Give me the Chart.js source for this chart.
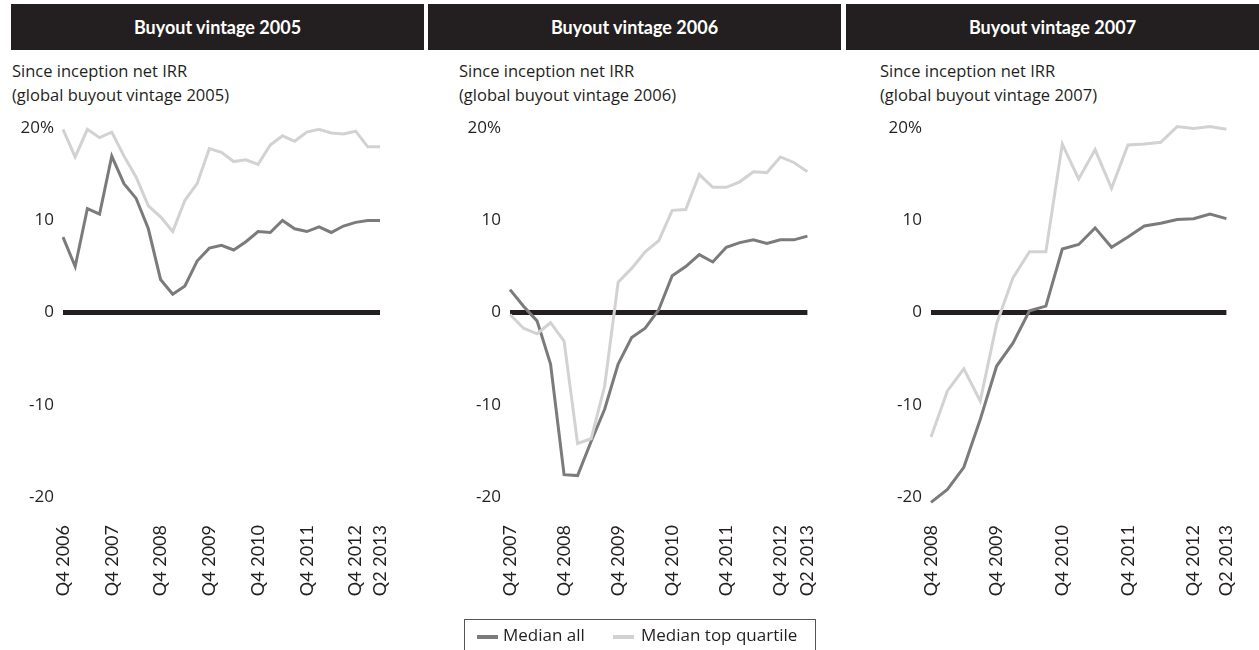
<!DOCTYPE html>
<html>
<head>
<meta charset="utf-8">
<script src="https://cdn.jsdelivr.net/npm/chart.js@4/dist/chart.umd.min.js"></script>
<style>
  body { margin: 0; background: #fff; font-family: "Open Sans", sans-serif; color: #231f20; }
  .bar { position: absolute; top: 4px; height: 46px; background: #231f20; color: #fff;
         font-family: Lato, sans-serif; font-weight: bold; font-size: 18px; line-height: 46px; text-align: center; }
  .sub { position: absolute; top: 59px; font-size: 16.5px; line-height: 24px; }
  canvas { position: absolute; top: 100px; }
  .legend { position: absolute; left: 464px; top: 619px; width: 350px; height: 60px;
            border: 1px solid #555; font-size: 17px; }
  .legend span.sw { position: absolute; top: 15px; width: 21px; height: 4px; }
  .legend span.tx { position: absolute; top: 3px; }
</style>
</head>
<body>
<div class="bar" style="left:11px;width:413px">Buyout vintage 2005</div>
<div class="bar" style="left:428px;width:413px">Buyout vintage 2006</div>
<div class="bar" style="left:846px;width:413px">Buyout vintage 2007</div>

<div class="sub" style="left:12px">Since inception net IRR<br>(global buyout vintage 2005)</div>
<div class="sub" style="left:459px">Since inception net IRR<br>(global buyout vintage 2006)</div>
<div class="sub" style="left:880px">Since inception net IRR<br>(global buyout vintage 2007)</div>

<canvas id="chart2005" width="420" height="530" style="left:0px"></canvas>
<canvas id="chart2006" width="420" height="530" style="left:420px"></canvas>
<canvas id="chart2007" width="419" height="530" style="left:840px"></canvas>

<div class="legend">
  <span class="sw" style="left:12px;background:#7b7b7d"></span>
  <span class="tx" style="left:38px">Median all</span>
  <span class="sw" style="left:148px;background:#d2d2d3"></span>
  <span class="tx" style="left:176px">Median top quartile</span>
</div>

<script>
// quarterly categories, Q4 of the vintage+1 year through Q2 2013
function quarterLabels(startYear) {
  const out = ["Q4 " + startYear];
  for (let y = startYear + 1; y <= 2012; y++) {
    for (let q = 1; q <= 4; q++) out.push("Q" + q + " " + y);
  }
  out.push("Q1 2013", "Q2 2013");
  return out;
}

const labels2005 = quarterLabels(2006);
const labels2006 = quarterLabels(2007);
const labels2007 = quarterLabels(2008);

// tick labels that are printed on the x axis
const shown2005 = ["Q4 2006", "Q4 2007", "Q4 2008", "Q4 2009", "Q4 2010", "Q4 2011", "Q4 2012", "Q2 2013"];
const shown2006 = ["Q4 2007", "Q4 2008", "Q4 2009", "Q4 2010", "Q4 2011", "Q4 2012", "Q2 2013"];
const shown2007 = ["Q4 2008", "Q4 2009", "Q4 2010", "Q4 2011", "Q4 2012", "Q2 2013"];

const yTicks = [-20, -10, 0, 10, 20];

// series values (%)
const medianAll2005 = [8.2, 5.0, 11.3, 10.7, 17.0, 14.0, 12.4, 9.1, 3.6, 2.0, 2.9, 5.6, 7.0, 7.3,
  6.8, 7.7, 8.8, 8.7, 10.0, 9.1, 8.8, 9.3, 8.7, 9.4, 9.8, 10.0, 10.0];
const topQuartile2005 = [19.9, 16.9, 19.9, 19.0, 19.6, 17.0, 14.7, 11.6, 10.4, 8.8, 12.2, 14.0, 17.8, 17.4,
  16.4, 16.6, 16.1, 18.2, 19.2, 18.6, 19.6, 19.9, 19.5, 19.4, 19.7, 18.0, 18.0];

const medianAll2006 = [2.5, 0.7, -0.9, -5.6, -17.6, -17.7, -14.0, -10.5, -5.6, -2.7, -1.7, 0.3,
  4.0, 5.0, 6.3, 5.5, 7.1, 7.6, 7.9, 7.5, 7.9, 7.9, 8.3];
const topQuartile2006 = [-0.2, -1.7, -2.3, -1.1, -3.1, -14.2, -13.7, -8.0, 3.3, 4.8, 6.6, 7.8,
  11.1, 11.2, 15.0, 13.6, 13.6, 14.2, 15.3, 15.2, 16.9, 16.3, 15.3];

const medianAll2007 = [-20.6, -19.2, -16.8, -11.6, -5.8, -3.3, 0.2, 0.7, 6.9, 7.4, 9.2, 7.1,
  8.2, 9.4, 9.7, 10.1, 10.2, 10.7, 10.2];
const topQuartile2007 = [-13.5, -8.5, -6.1, -9.6, -1.2, 3.8, 6.6, 6.6, 18.3, 14.5, 17.7, 13.5,
  18.2, 18.3, 18.5, 20.2, 20.0, 20.2, 19.9];

function makePanel(canvasId, labels, allValues, topValues, shown, axisWidth, padRight) {
  const ctx = document.getElementById(canvasId).getContext("2d");
  new Chart(ctx, {
    type: "line",
    data: {
      labels: labels,
      datasets: [
        {
          label: "Median top quartile",
          data: topValues,
          borderColor: "#d2d2d3",
          borderWidth: 3,
          pointRadius: 0,
          tension: 0,
        },
        {
          label: "Median all",
          data: allValues,
          borderColor: "#7b7b7d",
          borderWidth: 3,
          pointRadius: 0,
          tension: 0,
        },
      ],
    },
    options: {
      responsive: false,
      animation: false,
      devicePixelRatio: 1,
      layout: { padding: { top: 18, right: padRight, bottom: 0, left: 0 } },
      plugins: {
        legend: { display: false },
        tooltip: { enabled: false },
      },
      scales: {
        x: {
          grid: { display: false },
          border: { display: false },
          ticks: {
            autoSkip: false,
            maxRotation: 90,
            minRotation: 90,
            padding: 11,
            color: "#231f20",
            font: { family: "Lato", size: 18 },
            callback: function (value) {
              const lab = this.getLabelForValue(value);
              return shown.includes(lab) ? lab : "";
            },
          },
          afterFit: function (scale) {
            scale.height = 124;
          },
        },
        y: {
          min: -21,
          max: 21,
          border: { display: false },
          grid: {
            drawTicks: false,
            lineWidth: 5,
            color: function (c) {
              return c.tick && c.tick.value === 0 ? "#231f20" : "rgba(0,0,0,0)";
            },
          },
          afterBuildTicks: function (scale) {
            scale.ticks = yTicks.map((v) => ({ value: v }));
          },
          ticks: {
            padding: 9,
            color: "#231f20",
            font: { family: "Open Sans", size: 17 },
            callback: function (value) {
              return value === 20 ? "20%" : value;
            },
          },
          afterFit: function (scale) {
            scale.width = axisWidth;
          },
        },
      },
    },
  });
}

makePanel("chart2005", labels2005, medianAll2005, topQuartile2005, shown2005, 63, 40);
makePanel("chart2006", labels2006, medianAll2006, topQuartile2006, shown2006, 90, 13);
makePanel("chart2007", labels2007, medianAll2007, topQuartile2007, shown2007, 91, 12);
</script>
</body>
</html>
